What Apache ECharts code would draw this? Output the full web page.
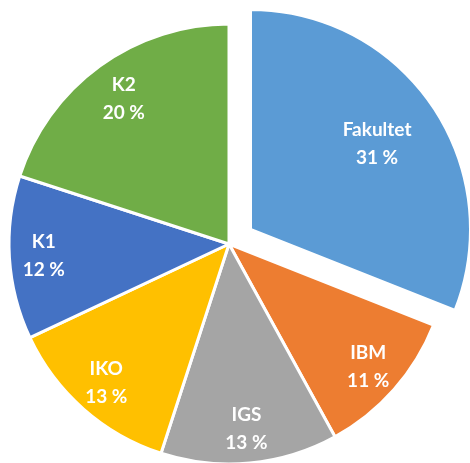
<!DOCTYPE html>
<html>
<head>
<meta charset="utf-8">
<script src="https://cdn.jsdelivr.net/npm/echarts@6/dist/echarts.min.js"></script>
<style>
  html, body { margin: 0; padding: 0; background: #fff; }
  #chart { width: 470px; height: 463px; }
</style>
</head>
<body>
<div id="chart"></div>
<script>
const categories = ['Fakultet', 'IBM', 'IGS', 'IKO', 'K1', 'K2'];
const shares = [31, 11, 13, 13, 12, 20];
const colors = ['#5B9BD5', '#ED7D31', '#A5A5A5', '#FFC000', '#4472C4', '#70AD47'];
const explodedName = 'Fakultet';
// labels that sit a little closer to the centre
const innerLabelNames = ['Fakultet', 'K2'];

const R = 220;
const center = [229, 244];

const chart = echarts.init(document.getElementById('chart'));

const sliceData = categories.map((name, i) => ({
  name,
  value: shares[i],
  selected: name === explodedName,
  itemStyle: { color: colors[i] }
}));

const labelStyle = {
  position: 'inside',
  color: '#fff',
  fontFamily: 'Lato',
  fontWeight: 'bold',
  fontSize: 19,
  lineHeight: 28,
  formatter: p => p.name + '\n' + p.value + ' %'
};

function labelRing(r0, inner) {
  return {
    type: 'pie',
    center,
    radius: [r0, R],
    startAngle: 90,
    silent: true,
    z: 5,
    itemStyle: { color: 'rgba(0,0,0,0)', borderWidth: 0 },
    label: labelStyle,
    labelLine: { show: false },
    emphasis: { disabled: true },
    data: categories.map((name, i) => ({
      name,
      value: shares[i],
      label: { show: innerLabelNames.includes(name) === inner }
    }))
  };
}

chart.setOption({
  animation: false,
  series: [
    {
      type: 'pie',
      center,
      radius: [0, R],
      startAngle: 90,
      selectedMode: 'single',
      selectedOffset: 26,
      silent: true,
      itemStyle: { borderColor: '#fff', borderWidth: 3 },
      label: { show: false },
      labelLine: { show: false },
      emphasis: { disabled: true },
      data: sliceData
    },
    labelRing(R * 0.6, true),
    labelRing(R * 0.66, false)
  ]
});
</script>
</body>
</html>
